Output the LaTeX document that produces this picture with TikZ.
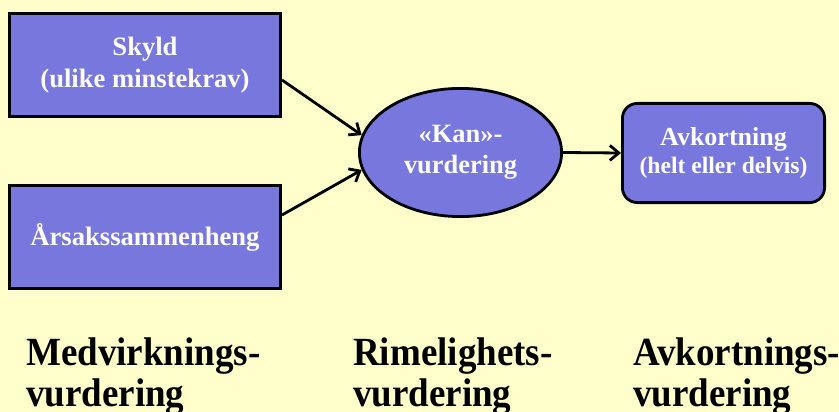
\documentclass[tikz,border=0pt]{standalone}
\usepackage{fontspec}
\setmainfont{Liberation Serif}
\newfontfamily\labelfont{Liberation Serif}[FakeStretch=0.925]
\usetikzlibrary{shapes.geometric,arrows.meta}
\definecolor{bg}{HTML}{FFFFCC}
\definecolor{boxfill}{HTML}{7777DD}
\begin{document}
\begin{tikzpicture}[x=1pt,y=-1pt,
  box/.style={draw=black, line width=2.8pt, fill=boxfill, text=white,
    font=\bfseries\fontsize{26.6}{32}\selectfont, align=center, inner sep=0pt},
  conn/.style={line width=2.8pt, -{Straight Barb[length=9pt,width=15pt]}},
  lbl/.style={anchor=base west, align=left, inner sep=0pt,
    font=\labelfont\bfseries\fontsize{40}{40.3}\selectfont}]
\fill[bg] (0,0) rectangle (839,412);
\useasboundingbox (0,0) rectangle (839,412);
\node[box, rectangle, minimum width=271.2pt, minimum height=103.2pt] (skyld) at (145,65) {Skyld\\(ulike minstekrav)};
\node[box, rectangle, minimum width=271.2pt, minimum height=103.2pt] (arsak) at (145,237) {Årsakssammenheng};
\node[box, ellipse, minimum width=202.2pt, minimum height=128.2pt, font=\bfseries\fontsize{26.4}{31}\selectfont] (kan) at (460.5,152.5) {«Kan»-\\vurdering};
\node[box, rectangle, rounded corners=15pt, minimum width=202.2pt, minimum height=99.2pt, font=\bfseries\fontsize{26}{28}\selectfont] (avk) at (723.5,153) {Avkortning\\\fontsize{23.6}{28}\selectfont (helt eller delvis)};
\draw[conn] ([yshift=-15pt]skyld.east) -- (kan.170);
\draw[conn] ([yshift=22pt]arsak.east) -- (kan.190);
\draw[conn] (kan.east) -- (avk.west);
\node[lbl] (l1) at (26,406) {Medvirknings-\\vurdering};
\node[lbl] (l2) at (353,406) {Rimelighets-\\vurdering};
\node[lbl] (l3) at (633,406) {Avkortnings-\\vurdering};
\end{tikzpicture}
\end{document}
